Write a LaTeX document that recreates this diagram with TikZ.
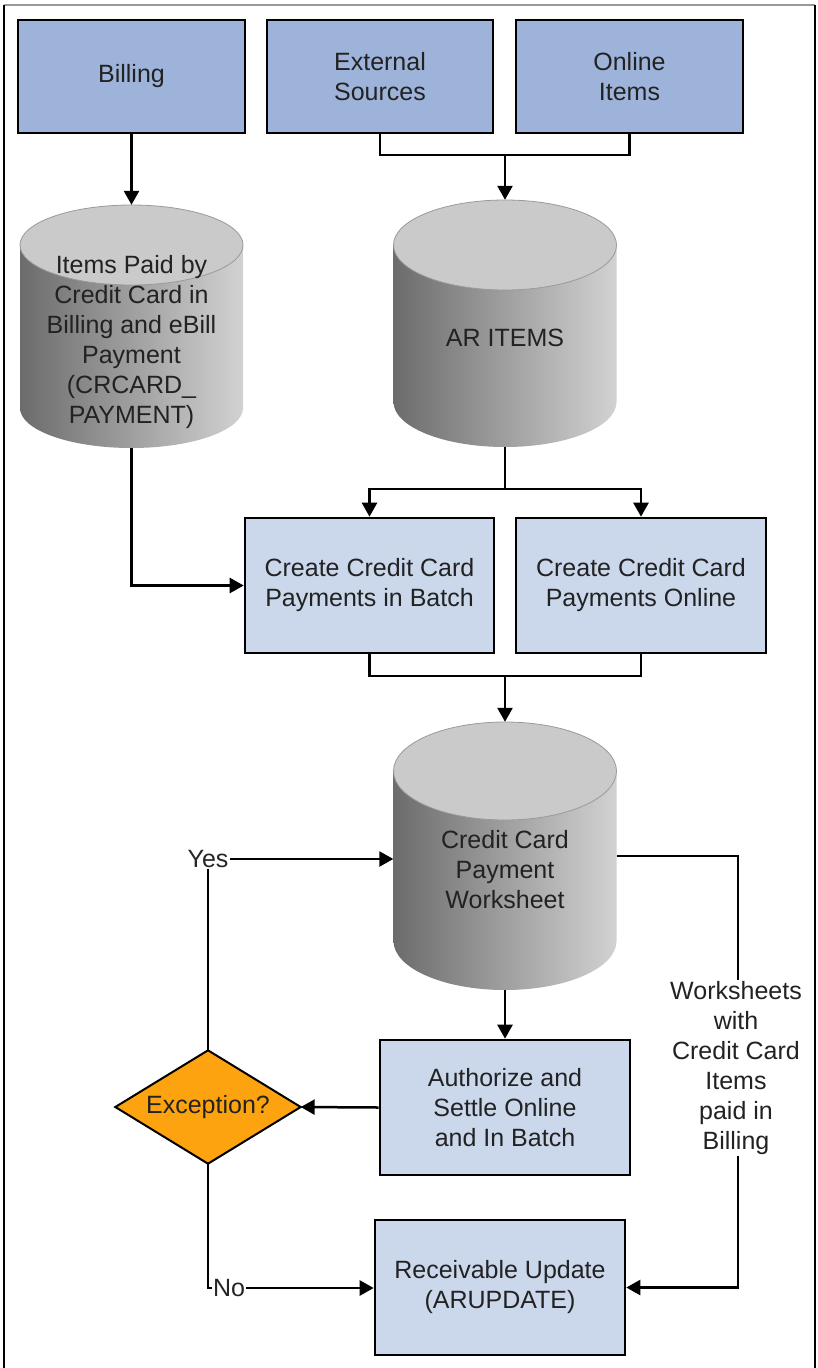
\documentclass[tikz,border=0pt]{standalone}
\usepackage{fontspec}
\setmainfont{Liberation Sans}
\usetikzlibrary{arrows.meta,calc}
\definecolor{boxdark}{HTML}{9EB3DA}
\definecolor{boxlight}{HTML}{CBD8EC}
\definecolor{cylL}{HTML}{6C6C6C}
\definecolor{cylR}{HTML}{D2D2D2}
\definecolor{cylTop}{HTML}{CACACA}
\definecolor{cylEdge}{HTML}{9A9A9A}
\definecolor{txt}{HTML}{222222}
\definecolor{orangeD}{HTML}{FDA30F}
\newcommand\dbcyl[6]{%
  \shade[left color=cylL, right color=cylR]
    (#2-#5, #3+#6) -- (#2-#5, #4-#6)
    arc[start angle=180, end angle=360, x radius=#5pt, y radius=#6pt]
    -- (#2+#5, #3+#6) -- cycle;
  \filldraw[fill=cylTop, draw=cylEdge, line width=0.8pt]
    (#2, #3+#6) ellipse[x radius=#5pt, y radius=#6pt];
  \node[inner sep=0pt, minimum width={2*#5pt}, minimum height={(#4-#3)*1pt}]
    (#1) at (#2, {(#3+#4)/2}) {};
}
\tikzset{
  txtfont/.style={font=\fontsize{25}{30}\selectfont, text=txt, align=center},
  boxnode/.style={txtfont, draw=black, line width=2.6pt, fill=boxlight, inner sep=0pt},
  topbox/.style={boxnode, fill=boxdark},
  conn/.style={line width=2.5pt, draw=black},
  arr/.style={conn, -{Triangle[length=14pt,width=15pt]}},
  lbl/.style={txtfont, inner sep=1pt},
}
\begin{document}
\begin{tikzpicture}[x=1pt, y=-1pt]
\useasboundingbox (0,0) rectangle (817,1368);
\fill[white] (0,0) rectangle (817,1368);
% frame
\draw[line width=1.5pt, draw=gray!80] (4,5) -- (815,5);
\draw[line width=2pt] (4,5) -- (4,1368);
\draw[line width=2pt] (815,5) -- (815,1368);

% top boxes
\node[topbox, minimum width=227pt, minimum height=113pt] (billing) at (131.5,76.5) {Billing};
\node[topbox, minimum width=226pt, minimum height=113pt] (ext) at (380,76.5) {External\\Sources};
\node[topbox, minimum width=227pt, minimum height=113pt] (onl) at (629.5,76.5) {Online\\Items};

% cylinders
\dbcyl{lc}{131.5}{205}{448}{111.5}{40}
\node[txtfont] (lctext) at (131.5,342) {Items Paid by\\Credit Card in\\Billing and eBill\\Payment\\(CRCARD\_\\PAYMENT)};
\dbcyl{ar}{505}{200}{447}{111.5}{45}
\node[txtfont] (artext) at (505,338) {AR ITEMS};

% middle boxes
\node[boxnode, minimum width=249pt, minimum height=135pt] (batch) at (369.5,585.5) {Create Credit Card\\Payments in Batch};
\node[boxnode, minimum width=250pt, minimum height=135pt] (online) at (641,585.5) {Create Credit Card\\Payments Online};

\dbcyl{ws}{505}{722}{990}{111.5}{49}
\node[txtfont] (wstext) at (505,870) {Credit Card\\Payment\\Worksheet};

\node[boxnode, minimum width=250pt, minimum height=135pt] (auth) at (505,1107.5) {Authorize and\\Settle Online\\and In Batch};
\node[boxnode, minimum width=250pt, minimum height=135pt] (rec) at (500,1287.5) {Receivable Update\\(ARUPDATE)};

% decision diamond
\node[inner sep=0pt, minimum width=185pt, minimum height=113pt] (dia) at (208,1107) {};
\filldraw[fill=orangeD, draw=black, line width=2pt, line join=miter]
  (dia.north) -- (dia.east) -- (dia.south) -- (dia.west) -- cycle;
\node[txtfont] (diatext) at (dia.center) {Exception?};

% labels
\node[lbl, text=gray!30!black] (yes) at (208,859) {Yes};
\node[lbl, text=gray!30!black] (no) at (229,1288) {No};
\node[lbl] (wl) at (736,1068) {Worksheets\\with\\Credit Card\\Items\\paid in\\Billing};

% connectors
\draw[arr] (billing.south) -- (lc.north);
\coordinate (j1) at (505,155);
\draw[conn] (ext.south) |- (j1) -| (onl.south);
\draw[arr] (j1) -- (ar.north);

\coordinate (j2) at (505,489);
\draw[conn] (ar.south) -- (j2);
\draw[arr] (j2) -| (batch.north);
\draw[arr] (j2) -| (online.north);

\draw[arr] (lc.south) |- (batch.west);

\coordinate (j3) at (505,676);
\draw[conn] (batch.south) |- (j3) -| (online.south);
\draw[arr] (j3) -- (ws.north);

\draw[arr] (ws.south) -- (auth.north);
\draw[arr] (auth.west) -- (dia.east);

\draw[conn] (dia.north) -- (yes.south);
\draw[arr] (yes.east) -- (yes.east -| ws.west);

\draw[conn] (dia.south) |- (no.west);
\draw[arr] (no.east) -- (no.east -| rec.west);

\coordinate (r1) at (738,856);
\draw[conn] (ws.east |- r1) -- (r1) -- (wl.north -| r1);
\draw[arr] (wl.south -| r1) |- (rec.east);
\end{tikzpicture}
\end{document}
